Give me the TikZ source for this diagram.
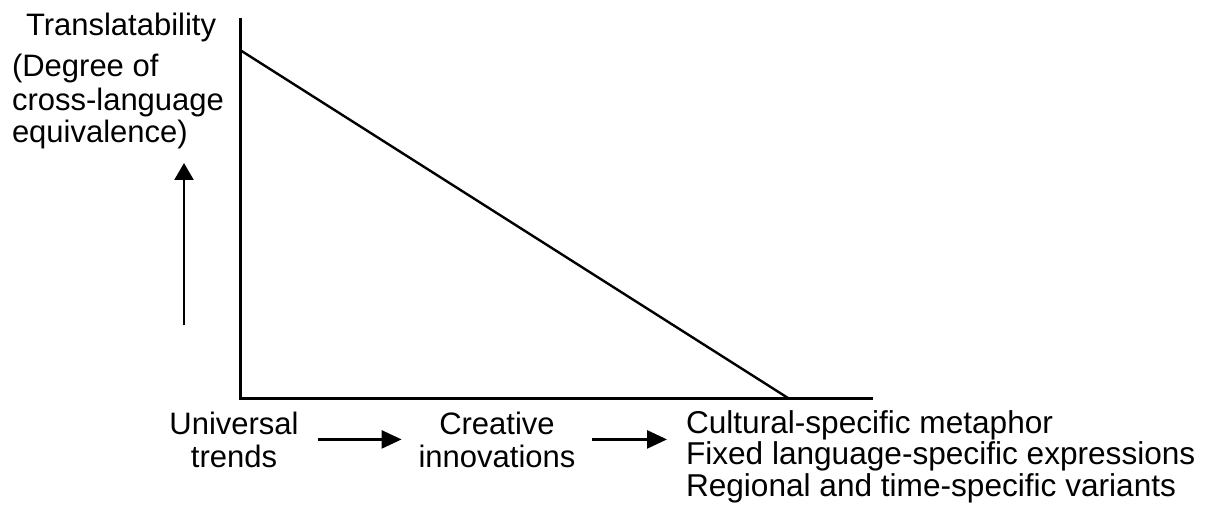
\documentclass[tikz,border=0pt]{standalone}
\usepackage{fontspec}
\setmainfont{Liberation Sans}
\usetikzlibrary{arrows.meta}

\begin{document}
\begin{tikzpicture}[y=0.50pt, x=0.5pt, yscale=-1, inner sep=0pt, outer sep=0pt,
  label/.style={font=\fontsize{15.5}{16.5}\selectfont},
  axis/.style={draw=black, line width=1.5pt, line cap=butt},
  flowarrow/.style={draw=black, line width=1.3pt,
    -{Triangle[length=10pt,width=9pt]}}]
  \useasboundingbox (0,0) rectangle (1206,508);
  % axes and the falling line
  \coordinate (ytop) at (240,18);
  \coordinate (origin) at (240,398);
  \coordinate (xend) at (873,398);
  \coordinate (diagtop) at (240,50);
  \coordinate (diagend) at (788,398);
  \path[axis] (ytop) -- (origin) -- (xend);
  \path[draw=black, line width=1.2pt] (diagtop) -- (diagend);
  % vertical label (base = last line)
  \node[label, anchor=base west] (texttrans) at (26,36) {Translatability};
  \node[label, anchor=base west, align=left] (textdegree) at (12,143)
    {(Degree of\\cross-language\\equivalence)};
  \coordinate (upfoot) at (184,325);
  \coordinate (uptip) at (184,163);
  \path[draw=black, line width=1.2pt,
    -{Triangle[length=8.5pt,width=9.5pt]}] (upfoot) -- (uptip);
  % horizontal labels
  \node[label, anchor=base, align=center] (universal) at (234,467)
    {Universal\\trends};
  \node[label, anchor=base, align=center] (creative) at (497,467)
    {Creative\\innovations};
  \node[label, anchor=base west, align=left,
    font=\fontsize{15.8}{15.75}\selectfont] (cultural) at (686,496)
    {Cultural-specific metaphor\\Fixed language-specific expressions\\Regional and time-specific variants};
  \path[flowarrow, shorten <=9.5pt, shorten >=8.5pt] (universal) -- (creative);
  \path[flowarrow, shorten <=8.5pt, shorten >=9.5pt] (creative.east) --
    (creative.east -| cultural.west);
\end{tikzpicture}
\end{document}
